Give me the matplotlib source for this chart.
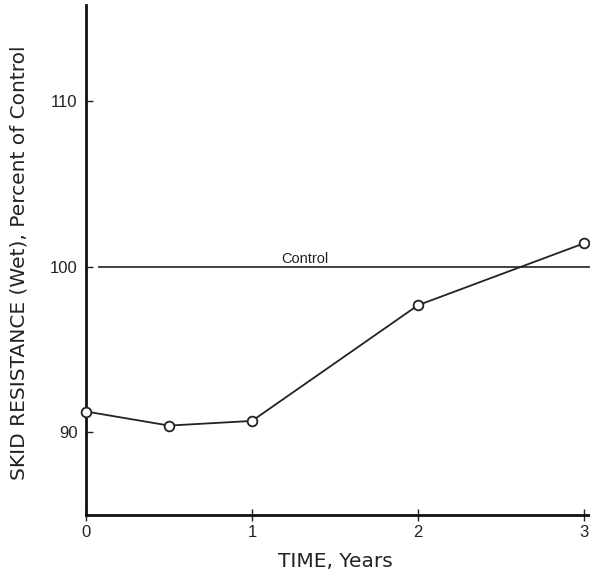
import matplotlib.pyplot as plt

plt.rcParams["font.family"] = ["Liberation Sans", "DejaVu Sans"]

# data
years = [0, 0.5, 1, 2, 3]
skid_resistance = [91.25, 90.4, 90.68, 97.67, 101.41]
control_level = 100
x_ticks = [0, 1, 2, 3]
y_ticks = [90, 100, 110]

fig = plt.figure(figsize=(5.9, 5.76), dpi=100)
ax = fig.add_axes([0.1458, 0.106, 0.854, 0.885])

ax.axhline(control_level, xmin=0.025, xmax=1, color="#333333", lw=1.3)
ax.text(1.32, control_level + 0.25, "Control", ha="center", va="baseline", fontsize=10.5, color="#222222")

ax.plot(years, skid_resistance, color="#222222", lw=1.3, marker="o", markersize=7,
        markerfacecolor="white", markeredgecolor="#222222", markeredgewidth=1.3,
        clip_on=False, zorder=3)

ax.set_xlim(0, 3.036)
ax.set_ylim(85, 115.8)
ax.set_xticks(x_ticks)
ax.set_xticklabels([str(t) for t in x_ticks])
ax.set_yticks(y_ticks)

for side in ["top", "right"]:
    ax.spines[side].set_visible(False)
for side in ["left", "bottom"]:
    ax.spines[side].set_linewidth(2)
    ax.spines[side].set_color("#111111")

ax.tick_params(axis="x", direction="inout", length=8, width=1, labelsize=12, pad=3, colors="#222222")
ax.tick_params(axis="y", direction="in", length=5, width=1, labelsize=12, pad=6, colors="#222222")

ax.set_xlabel("TIME, Years", fontsize=14.5, family="DejaVu Sans", color="#222222")
ax.set_ylabel("SKID RESISTANCE (Wet), Percent of Control", fontsize=14.5, family="DejaVu Sans", color="#222222")
ax.xaxis.set_label_coords(0.494, -0.072)
ax.yaxis.set_label_coords(-0.115, 0.495)

plt.savefig("out.png", dpi=100)
